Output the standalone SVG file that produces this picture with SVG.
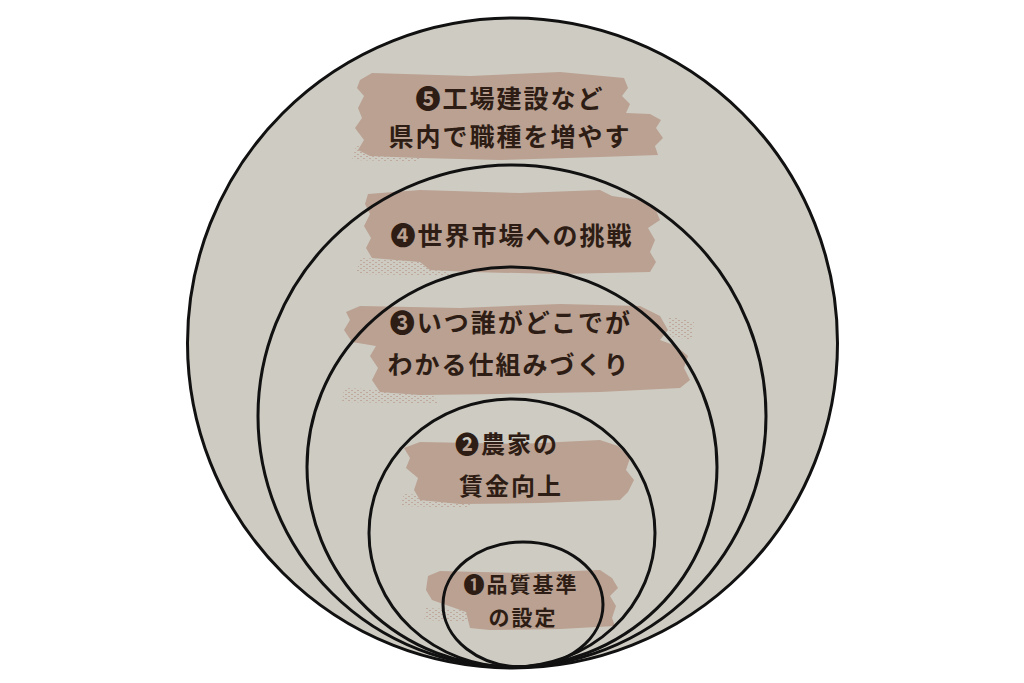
<svg xmlns="http://www.w3.org/2000/svg" width="1024" height="683" viewBox="0 0 1024 683">
<defs>
<style>
.ring{fill:none;stroke:#111;stroke-width:3}
.band{fill:#baa192}
.speck{fill:url(#speck);opacity:0.8}
.t{font-family:"Noto Sans CJK JP","Noto Sans CJK SC",sans-serif;font-weight:700;fill:#2e1d14;text-anchor:middle;letter-spacing:2px}
.l{font-size:25px}
.m{font-size:24px}
.s{font-size:21px}
</style>
<pattern id="speck" width="6" height="4" patternUnits="userSpaceOnUse">
<rect x="0" y="0" width="2" height="1" fill="#baa192"/>
<rect x="3" y="2" width="2" height="1" fill="#baa192"/>
</pattern>
</defs>
<rect width="1024" height="683" fill="#ffffff"/>
<g id="background">
<circle cx="512.5" cy="343" r="325" fill="#cecbc2"/>
</g>
<g id="bands">
<path class="band" d="M360,80 L372,73 L470,76 L560,72 L624,78 L628,88 L622,96 L630,104 L626,113 L650,114 L661,120 L656,128 L663,138 L655,146 L658,155 L600,157 L500,160 L420,158 L370,156 L358,150 L364,140 L355,128 L362,118 L358,108 L364,96 L357,88 Z"/>
<path class="speck" d="M356,146 L420,150 L420,162 L352,160 Z"/>
<path class="band" d="M368,194 L420,190 L520,193 L600,190 L612,196 L640,200 L655,208 L660,220 L648,228 L655,240 L650,252 L656,262 L650,272 L560,274 L470,272 L430,270 L420,262 L372,258 L366,248 L371,238 L364,226 L370,214 L365,204 Z"/>
<path class="speck" d="M360,258 L440,262 L450,276 L356,274 Z"/>
<path class="band" d="M346,312 L360,306 L460,308 L560,304 L640,306 L660,316 L668,330 L660,340 L676,346 L688,356 L684,368 L690,380 L680,388 L600,392 L500,394 L420,395 L380,392 L372,380 L378,368 L370,356 L376,346 L352,342 L344,330 L350,320 Z"/>
<path class="speck" d="M344,388 L430,392 L440,404 L342,402 Z"/>
<path class="speck" d="M668,316 L694,322 L692,340 L670,336 Z"/>
<path class="band" d="M404,448 L420,442 L520,444 L600,440 L618,446 L630,458 L626,470 L634,480 L628,492 L620,500 L540,503 L460,504 L420,500 L414,490 L418,478 L406,468 L410,458 Z"/>
<path class="speck" d="M404,494 L470,498 L470,508 L400,506 Z"/>
<path class="band" d="M428,576 L440,571 L520,573 L600,570 L612,578 L618,588 L610,596 L616,606 L612,618 L615,626 L560,629 L490,630 L470,628 L466,612 L432,600 L426,590 Z"/>
<path class="speck" d="M426,608 L470,610 L470,622 L424,620 Z"/>
</g>
<g id="rings">
<circle id="ring5" class="ring" cx="512.5" cy="343" r="325"/>
<ellipse id="ring4" class="ring" cx="512" cy="416" rx="254" ry="251"/>
<ellipse id="ring3" class="ring" cx="512" cy="467" rx="205" ry="200"/>
<ellipse id="ring2" class="ring" cx="512" cy="533" rx="143" ry="134"/>
<ellipse id="ring1" class="ring" cx="523" cy="604.5" rx="80" ry="62.5"/>
</g>
<g id="node5">
<text class="t l" x="510" y="108">❺工場建設など</text>
<text class="t l" x="510" y="146">県内で職種を増やす</text>
</g>
<g id="node4">
<text class="t l" x="512" y="245">❹世界市場への挑戦</text>
</g>
<g id="node3">
<text class="t l" x="511" y="332">❸いつ誰がどこでが</text>
<text class="t l" x="509" y="374">わかる仕組みづくり</text>
</g>
<g id="node2">
<text class="t m" x="507" y="453">❷農家の</text>
<text class="t m" x="511" y="495">賃金向上</text>
</g>
<g id="node1">
<text class="t s" x="521" y="592">❶品質基準</text>
<text class="t s" x="523" y="625">の設定</text>
</g>
</svg>
